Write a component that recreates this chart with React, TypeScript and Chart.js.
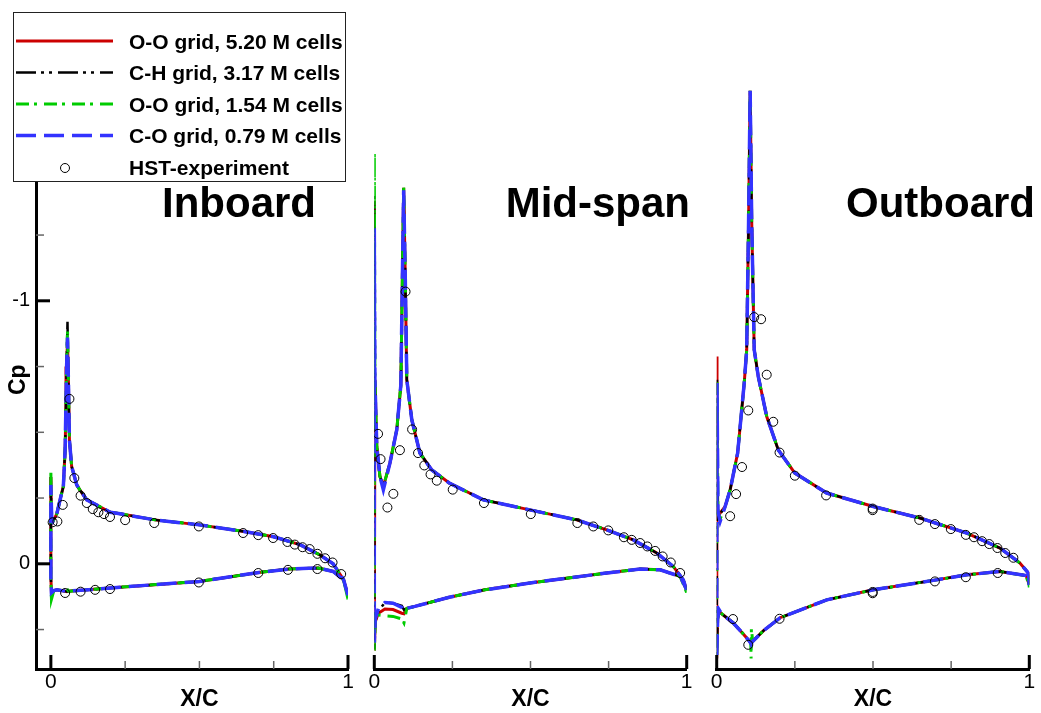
import React, { useEffect, useRef } from 'react';
import { Chart, registerables } from 'chart.js';

Chart.register(...registerables);

const FONT = "'Liberation Sans', Arial, Helvetica, sans-serif";

// ---------- axis ticks ----------
const X_TICKS = [0, 0.25, 0.5, 0.75, 1];
const X_MAJOR = [0, 1];
const X_MINOR = [0.25, 0.5, 0.75];
const Y_MAJOR = [-1, 0];
const Y_MINOR = [-1.75, -1.5, -1.25, -0.75, -0.5, -0.25, 0.25];

// ---------- legend ----------
const SERIES_LABELS = [
  'O-O grid, 5.20 M cells',
  'C-H grid, 3.17 M cells',
  'O-O grid, 1.54 M cells',
  'C-O grid, 0.79 M cells',
];
const EXP_LABEL = 'HST-experiment';

// ---------- Inboard ----------
const P1_X = [1.000, 0.985, 0.950, 0.905, 0.840, 0.750, 0.650, 0.500, 0.350, 0.233, 0.200, 0.121, 0.098, 0.087, 0.076, 0.070, 0.0625, 0.059, 0.056, 0.053, 0.051, 0.048, 0.042, 0.031, 0.020, 0.007, 0.003, 0.001, 0.000,
  0.000, 0.002, 0.010, 0.020, 0.048, 0.054, 0.060, 0.100, 0.233, 0.500, 0.700, 0.800, 0.900, 0.950, 0.985, 1.000];
const P1_RED = [0.120, 0.060, 0.000, -0.034, -0.072, -0.103, -0.123, -0.148, -0.167, -0.190, -0.196, -0.243, -0.280, -0.300, -0.346, -0.370, -0.470, -0.700, -0.850, -0.750, -0.620, -0.433, -0.294, -0.243, -0.190, -0.161, -0.170, -0.250, -0.330,
  0.050, 0.110, 0.102, 0.099, 0.104, 0.106, 0.104, 0.101, 0.089, 0.067, 0.033, 0.020, 0.016, 0.029, 0.061, 0.120];
const P1_BLACK = [0.120, 0.060, 0.000, -0.034, -0.072, -0.103, -0.123, -0.148, -0.167, -0.190, -0.196, -0.243, -0.280, -0.300, -0.346, -0.370, -0.470, -0.700, -0.920, -0.750, -0.620, -0.433, -0.294, -0.243, -0.190, -0.161, -0.170, -0.250, -0.330,
  0.050, 0.110, 0.102, 0.099, 0.104, 0.106, 0.104, 0.101, 0.089, 0.067, 0.033, 0.020, 0.016, 0.029, 0.061, 0.120];
const P1_GREEN = [0.135, 0.060, 0.000, -0.034, -0.072, -0.103, -0.123, -0.148, -0.167, -0.190, -0.196, -0.243, -0.280, -0.300, -0.346, -0.370, -0.470, -0.700, -0.890, -0.750, -0.620, -0.433, -0.294, -0.243, -0.190, -0.161, -0.170, -0.250, -0.355,
  0.050, 0.135, 0.102, 0.099, 0.104, 0.095, 0.104, 0.101, 0.089, 0.067, 0.033, 0.020, 0.016, 0.029, 0.061, 0.135];
const P1_BLUE = [0.120, 0.060, 0.000, -0.034, -0.072, -0.103, -0.123, -0.148, -0.167, -0.190, -0.196, -0.243, -0.280, -0.300, -0.346, -0.370, -0.470, -0.700, -0.860, -0.750, -0.620, -0.433, -0.294, -0.243, -0.190, -0.161, -0.170, -0.250, -0.300,
  0.050, 0.110, 0.102, 0.099, 0.104, 0.106, 0.104, 0.101, 0.089, 0.067, 0.033, 0.020, 0.016, 0.029, 0.061, 0.120];
const P1_EXP_X = [0.006, 0.022, 0.040, 0.0625, 0.079, 0.100, 0.121, 0.141, 0.160, 0.179, 0.199, 0.250, 0.348, 0.498, 0.647, 0.698, 0.748, 0.796, 0.821, 0.847, 0.871, 0.897, 0.923, 0.948, 0.977,
  0.048, 0.100, 0.149, 0.199, 0.498, 0.698, 0.798, 0.897];
const P1_EXP_CP = [-0.158, -0.161, -0.224, -0.627, -0.326, -0.259, -0.231, -0.208, -0.196, -0.189, -0.178, -0.166, -0.155, -0.142, -0.117, -0.109, -0.098, -0.083, -0.073, -0.063, -0.056, -0.038, -0.021, -0.005, 0.039,
  0.111, 0.106, 0.099, 0.096, 0.071, 0.035, 0.023, 0.020];

// ---------- Mid-span ----------
const P2_X = [1.000, 0.989, 0.957, 0.904, 0.829, 0.744, 0.648, 0.498, 0.349, 0.240, 0.184, 0.146, 0.120, 0.104, 0.099, 0.094, 0.090, 0.085, 0.072, 0.050, 0.029, 0.018, 0.008, 0.002, 0.000, 0.000,
  0.003, 0.013, 0.034, 0.060, 0.088, 0.095, 0.104, 0.130, 0.240, 0.354, 0.498, 0.744, 0.851, 0.915, 0.979, 1.000];
const P2_RED = [0.099, 0.061, 0.010, -0.041, -0.091, -0.129, -0.167, -0.205, -0.243, -0.307, -0.357, -0.421, -0.548, -0.700, -1.100, -1.430, -1.100, -0.680, -0.510, -0.383, -0.294, -0.332, -0.446, -0.700, -1.380, 0.330,
  0.220, 0.188, 0.172, 0.174, 0.188, 0.190, 0.169, 0.162, 0.127, 0.099, 0.073, 0.035, 0.020, 0.023, 0.048, 0.099];
const P2_BLACK = [0.099, 0.061, 0.010, -0.041, -0.091, -0.129, -0.167, -0.205, -0.243, -0.307, -0.357, -0.421, -0.548, -0.700, -1.100, -1.430, -1.100, -0.680, -0.510, -0.383, -0.294, -0.332, -0.446, -0.700, -1.400, 0.330,
  0.220, 0.180, 0.147, 0.150, 0.160, 0.175, 0.169, 0.162, 0.127, 0.099, 0.073, 0.035, 0.020, 0.023, 0.048, 0.099];
const P2_GREEN = [0.110, 0.061, 0.010, -0.041, -0.091, -0.129, -0.167, -0.205, -0.243, -0.307, -0.357, -0.421, -0.548, -0.700, -1.100, -1.441, -1.100, -0.680, -0.510, -0.383, -0.294, -0.332, -0.446, -0.700, -1.561, 0.330,
  0.220, 0.195, 0.198, 0.200, 0.210, 0.225, 0.170, 0.162, 0.127, 0.099, 0.073, 0.035, 0.020, 0.023, 0.048, 0.110];
const P2_BLUE = [0.099, 0.061, 0.010, -0.041, -0.091, -0.129, -0.167, -0.205, -0.243, -0.307, -0.357, -0.421, -0.548, -0.700, -1.100, -1.420, -1.100, -0.680, -0.510, -0.383, -0.281, -0.332, -0.446, -0.700, -1.276, 0.300,
  0.210, 0.170, 0.147, 0.150, 0.166, 0.180, 0.169, 0.162, 0.127, 0.099, 0.073, 0.035, 0.020, 0.023, 0.048, 0.099];
const P2_EXP_X = [0.012, 0.020, 0.042, 0.061, 0.082, 0.100, 0.121, 0.140, 0.160, 0.180, 0.200, 0.251, 0.351, 0.501, 0.650, 0.701, 0.749, 0.799, 0.824, 0.851, 0.874, 0.899, 0.923, 0.949, 0.979];
const P2_EXP_CP = [-0.494, -0.398, -0.214, -0.266, -0.432, -1.035, -0.511, -0.421, -0.374, -0.340, -0.316, -0.282, -0.231, -0.189, -0.155, -0.142, -0.127, -0.101, -0.091, -0.079, -0.066, -0.049, -0.028, -0.005, 0.035];

// ---------- Outboard ----------
const P3_X = [1.000, 0.997, 0.970, 0.906, 0.800, 0.650, 0.501, 0.352, 0.250, 0.197, 0.160, 0.133, 0.120, 0.112, 0.107, 0.102, 0.096, 0.088, 0.078, 0.067, 0.043, 0.027, 0.011, 0.004, 0.001, 0.000,
  0.003, 0.008, 0.016, 0.053, 0.080, 0.101, 0.109, 0.110, 0.111, 0.115, 0.149, 0.203, 0.352, 0.501, 0.693, 0.800, 0.906, 0.990, 1.000];
const P3_RED = [0.080, 0.035, -0.003, -0.060, -0.117, -0.174, -0.218, -0.269, -0.345, -0.433, -0.560, -0.712, -0.814, -1.300, -1.800, -1.300, -0.814, -0.687, -0.560, -0.421, -0.281, -0.218, -0.193, -0.200, -0.788, 0.360,
  0.210, 0.181, 0.190, 0.225, 0.260, 0.289, 0.302, 0.305, 0.302, 0.295, 0.255, 0.205, 0.137, 0.099, 0.063, 0.042, 0.029, 0.045, 0.080];
const P3_BLACK = [0.080, 0.035, -0.003, -0.060, -0.117, -0.174, -0.218, -0.269, -0.345, -0.433, -0.560, -0.712, -0.814, -1.300, -1.800, -1.300, -0.814, -0.687, -0.560, -0.421, -0.281, -0.218, -0.190, -0.200, -0.700, 0.360,
  0.210, 0.181, 0.190, 0.225, 0.260, 0.289, 0.302, 0.305, 0.302, 0.295, 0.255, 0.205, 0.137, 0.099, 0.063, 0.042, 0.029, 0.045, 0.080];
const P3_GREEN = [0.090, 0.035, -0.003, -0.060, -0.117, -0.174, -0.218, -0.269, -0.345, -0.433, -0.560, -0.712, -0.814, -1.300, -1.800, -1.300, -0.814, -0.687, -0.560, -0.421, -0.281, -0.218, -0.170, -0.200, -0.690, 0.360,
  0.210, 0.181, 0.190, 0.225, 0.260, 0.289, 0.300, 0.360, 0.245, 0.295, 0.255, 0.205, 0.137, 0.099, 0.063, 0.042, 0.029, 0.045, 0.090];
const P3_BLUE = [0.080, 0.035, -0.003, -0.060, -0.117, -0.174, -0.218, -0.269, -0.345, -0.433, -0.560, -0.712, -0.814, -1.300, -1.800, -1.300, -0.814, -0.687, -0.560, -0.421, -0.281, -0.218, -0.161, -0.200, -0.687, 0.360,
  0.210, 0.175, 0.190, 0.225, 0.260, 0.289, 0.302, 0.305, 0.302, 0.295, 0.255, 0.205, 0.137, 0.099, 0.063, 0.042, 0.029, 0.045, 0.080];
const P3_EXP_X = [0.043, 0.062, 0.081, 0.101, 0.120, 0.142, 0.160, 0.181, 0.201, 0.250, 0.350, 0.499, 0.499, 0.648, 0.698, 0.749, 0.797, 0.823, 0.849, 0.872, 0.898, 0.923, 0.949,
  0.052, 0.101, 0.201, 0.499, 0.499, 0.698, 0.797, 0.899];
const P3_EXP_CP = [-0.181, -0.265, -0.368, -0.583, -0.938, -0.930, -0.719, -0.540, -0.423, -0.335, -0.260, -0.210, -0.204, -0.167, -0.151, -0.132, -0.110, -0.101, -0.086, -0.075, -0.060, -0.041, -0.023,
  0.210, 0.308, 0.209, 0.107, 0.112, 0.067, 0.051, 0.035];

// ---------- styles ----------
const SERIES_COLORS = ['#cc0000', '#000000', '#00cc00', '#3333ff'];
const SERIES_DASH: number[][] = [[], [20, 5, 3, 5, 3, 6], [13, 5, 3, 7], [20, 8]];
const SERIES_WIDTH = [3, 2.5, 3, 3.5];
const SERIES_ORDER = [4, 3, 2, 1];

const pts = (xs: number[], ys: number[]) => xs.map((x, i) => ({ x, y: ys[i] }));

interface PanelCfg {
  left: number;
  width: number;
  padL: number;
  padR: number;
  xMin: number;
  showY: boolean;
  legend: boolean;
  title: string;
  titleRight: number;
  x: number[];
  series: number[][];
  expX: number[];
  expCp: number[];
}

const PANELS: PanelCfg[] = [
  { left: 0, width: 360, padL: 0, padR: 12, xMin: -0.05, showY: true, legend: true, title: 'Inboard', titleRight: 316,
    x: P1_X, series: [P1_RED, P1_BLACK, P1_GREEN, P1_BLUE], expX: P1_EXP_X, expCp: P1_EXP_CP },
  { left: 360, width: 340, padL: 14.3, padR: 13.3, xMin: 0, showY: false, legend: false, title: 'Mid-span', titleRight: 330,
    x: P2_X, series: [P2_RED, P2_BLACK, P2_GREEN, P2_BLUE], expX: P2_EXP_X, expCp: P2_EXP_CP },
  { left: 700, width: 341, padL: 16.7, padR: 11.7, xMin: 0, showY: false, legend: false, title: 'Outboard', titleRight: 335,
    x: P3_X, series: [P3_RED, P3_BLACK, P3_GREEN, P3_BLUE], expX: P3_EXP_X, expCp: P3_EXP_CP },
];

function makeDecor(cfg: PanelCfg) {
  return {
    id: 'decor',
    afterDraw(chart: any) {
      const ctx: CanvasRenderingContext2D = chart.ctx;
      const xs = chart.scales.x;
      const ys = chart.scales.y;
      const { bottom, left } = chart.chartArea;
      ctx.save();
      ctx.setLineDash([]);
      // x ticks (inward)
      ctx.strokeStyle = '#000';
      ctx.lineWidth = 3;
      X_MAJOR.forEach((v) => {
        const p = xs.getPixelForValue(v);
        ctx.beginPath(); ctx.moveTo(p, bottom); ctx.lineTo(p, bottom - 14); ctx.stroke();
      });
      ctx.strokeStyle = '#666';
      ctx.lineWidth = 1.5;
      X_MINOR.forEach((v) => {
        const p = xs.getPixelForValue(v);
        ctx.beginPath(); ctx.moveTo(p, bottom); ctx.lineTo(p, bottom - 8); ctx.stroke();
      });
      if (cfg.showY) {
        ctx.strokeStyle = '#000';
        ctx.lineWidth = 3;
        Y_MAJOR.forEach((v) => {
          const p = ys.getPixelForValue(v);
          ctx.beginPath(); ctx.moveTo(left, p); ctx.lineTo(left + 14, p); ctx.stroke();
        });
        ctx.strokeStyle = '#666';
        ctx.lineWidth = 1.5;
        Y_MINOR.forEach((v) => {
          const p = ys.getPixelForValue(v);
          ctx.beginPath(); ctx.moveTo(left, p); ctx.lineTo(left + 8, p); ctx.stroke();
        });
      }
      // X/C title
      ctx.fillStyle = '#000';
      ctx.font = `bold 23px ${FONT}`;
      ctx.textAlign = 'center';
      ctx.textBaseline = 'middle';
      ctx.fillText('X/C', (xs.getPixelForValue(0) + xs.getPixelForValue(1)) / 2, 700);
      // panel title
      ctx.font = `bold 42px ${FONT}`;
      ctx.textAlign = 'right';
      ctx.textBaseline = 'alphabetic';
      ctx.fillText(cfg.title, cfg.titleRight, 217);
      // legend
      if (cfg.legend) {
        ctx.fillStyle = '#fff';
        ctx.fillRect(13.5, 12.5, 332, 169);
        ctx.strokeStyle = '#222';
        ctx.lineWidth = 1;
        ctx.strokeRect(13.5, 12.5, 332, 169);
        const baselines = [48.5, 80, 111.5, 143, 175];
        SERIES_LABELS.forEach((lab, i) => {
          const yy = baselines[i] - 7.5;
          ctx.strokeStyle = SERIES_COLORS[i];
          ctx.lineWidth = SERIES_WIDTH[i];
          ctx.setLineDash(SERIES_DASH[i]);
          ctx.beginPath(); ctx.moveTo(16, yy); ctx.lineTo(113, yy); ctx.stroke();
        });
        ctx.setLineDash([]);
        ctx.strokeStyle = '#000';
        ctx.lineWidth = 1;
        ctx.beginPath(); ctx.arc(65, baselines[4] - 7, 4.5, 0, Math.PI * 2); ctx.stroke();
        ctx.fillStyle = '#000';
        ctx.font = `bold 21px ${FONT}`;
        ctx.textAlign = 'left';
        ctx.textBaseline = 'alphabetic';
        [...SERIES_LABELS, EXP_LABEL].forEach((lab, i) => ctx.fillText(lab, 129, baselines[i]));
      }
      ctx.restore();
    },
  };
}

function Panel({ cfg }: { cfg: PanelCfg }) {
  const ref = useRef<HTMLCanvasElement>(null);
  useEffect(() => {
    if (!ref.current) return;
    const datasets: any[] = cfg.series.map((ys, i) => ({
      label: SERIES_LABELS[i],
      data: pts(cfg.x, ys),
      showLine: true,
      borderColor: SERIES_COLORS[i],
      backgroundColor: SERIES_COLORS[i],
      borderWidth: SERIES_WIDTH[i],
      borderDash: SERIES_DASH[i],
      pointRadius: 0,
      tension: 0,
      fill: false,
      order: SERIES_ORDER[i],
    }));
    datasets.push({
      label: EXP_LABEL,
      data: pts(cfg.expX, cfg.expCp),
      showLine: false,
      pointStyle: 'circle',
      pointRadius: 4.5,
      borderColor: '#000',
      borderWidth: 1,
      backgroundColor: 'rgba(0,0,0,0)',
      order: 0,
    });
    const chart = new Chart(ref.current, {
      type: 'scatter',
      data: { datasets },
      options: {
        responsive: false,
        animation: false,
        devicePixelRatio: 1,
        events: [],
        layout: { padding: { top: 90.4, left: cfg.padL, right: cfg.padR, bottom: 0 } },
        plugins: { legend: { display: false }, tooltip: { enabled: false } },
        scales: {
          x: {
            type: 'linear',
            position: 'bottom',
            min: cfg.xMin,
            max: 1,
            afterFit: (s: any) => { s.height = 44; },
            afterBuildTicks: (s: any) => { s.ticks = X_TICKS.map((v) => ({ value: v })); },
            grid: { display: false, drawTicks: false },
            border: { display: true, color: '#000', width: 3 },
            ticks: {
              font: { family: FONT, size: 21 },
              color: '#000',
              padding: 1,
              maxRotation: 0,
              autoSkip: false,
              callback: (v: any) => (X_MAJOR.includes(Number(v)) ? String(v) : ''),
            },
          },
          y: {
            type: 'linear',
            position: 'left',
            reverse: true,
            min: -1.8,
            max: 0.4,
            display: cfg.showY,
            afterFit: (s: any) => { s.width = cfg.showY ? 36 : 0; },
            afterBuildTicks: (s: any) => { s.ticks = Y_MAJOR.map((v) => ({ value: v })); },
            grid: { display: false, drawTicks: false },
            border: { display: true, color: '#000', width: 3 },
            ticks: {
              font: { family: FONT, size: 20 },
              color: '#000',
              padding: 6,
              autoSkip: false,
              callback: (v: any) => String(v),
            },
            title: {
              display: true,
              text: 'Cp',
              color: '#000',
              font: { family: FONT, size: 23, weight: 'bold' },
              padding: { top: 5, bottom: 0 },
            },
          },
        },
      },
      plugins: [makeDecor(cfg)],
    } as any);
    return () => chart.destroy();
  }, [cfg]);
  return (
    <canvas
      ref={ref}
      width={cfg.width}
      height={713}
      style={{ position: 'absolute', left: cfg.left, top: 0, width: cfg.width, height: 713 }}
    />
  );
}

export default function App() {
  return (
    <div style={{ position: 'absolute', left: 0, top: 0, width: 1041, height: 713, background: '#fff', overflow: 'hidden' }}>
      {PANELS.map((p, i) => (
        <Panel key={i} cfg={p} />
      ))}
    </div>
  );
}
